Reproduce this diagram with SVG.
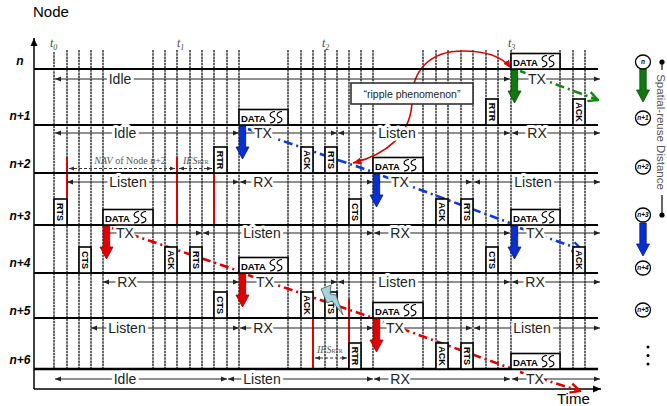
<svg xmlns="http://www.w3.org/2000/svg" width="667" height="406" viewBox="0 0 667 406">
<style>
text{font-family:"Liberation Sans",Arial,sans-serif}
.grid{fill:none;stroke:#000;stroke-width:1.2;stroke-dasharray:2.5 0.7}
.row{stroke:#000;stroke-width:2}
.st{stroke:#222;stroke-width:1;marker-start:url(#ah);marker-end:url(#ah)}
.sl{font-size:14px;fill:#222;text-anchor:middle;stroke:#fff;stroke-width:6;stroke-linejoin:round;paint-order:stroke}
.nl{font-size:12px;font-weight:bold;font-style:italic;text-anchor:middle}
.pk{fill:#fff;stroke:#000;stroke-width:1.6}
.pt{font-size:9px;font-weight:bold;text-anchor:middle}
.dt{font-size:9.5px;font-weight:bold}
.sq{fill:none;stroke:#000;stroke-width:1.2}
.red{stroke:#e00000;stroke-width:2}
.ser{font-family:"Liberation Serif","Times New Roman",serif;font-size:10px;fill:#555}
.tl{font-family:"Liberation Serif","Times New Roman",serif;font-size:12px;font-style:italic;fill:#444}
.dash{stroke:#333;stroke-width:1;stroke-dasharray:3 2;marker-start:url(#ah2);marker-end:url(#ah2)}
.dd{fill:none;stroke-width:2.6;stroke-dasharray:9 4 2 4}
.lc{fill:#fff;stroke:#000;stroke-width:1.3}
.lt{font-size:6.5px;font-weight:bold;font-style:italic;text-anchor:middle}
</style>
<defs>
<marker id="ah" viewBox="0 0 6 6" refX="6" refY="3" markerWidth="6" markerHeight="6" markerUnits="userSpaceOnUse" orient="auto-start-reverse"><path d="M0,0.6 L6,3 L0,5.4z" fill="#222"/></marker>
<marker id="ah2" viewBox="0 0 6 6" refX="6" refY="3" markerWidth="5" markerHeight="5" markerUnits="userSpaceOnUse" orient="auto-start-reverse"><path d="M0,0.6 L6,3 L0,5.4z" fill="#333"/></marker>
<marker id="ax" viewBox="0 0 8 8" refX="8" refY="4" markerWidth="8" markerHeight="8" markerUnits="userSpaceOnUse" orient="auto"><path d="M0,0.5 L8,4 L0,7.5z" fill="#000"/></marker>
<marker id="cb" viewBox="0 0 10 10" refX="9" refY="5" markerWidth="12" markerHeight="12" markerUnits="userSpaceOnUse" orient="auto"><path d="M1,1 L9,5 L1,9" fill="none" stroke="#0a3be0" stroke-width="2"/></marker>
<marker id="cg" viewBox="0 0 10 10" refX="9" refY="5" markerWidth="12" markerHeight="12" markerUnits="userSpaceOnUse" orient="auto"><path d="M1,1 L9,5 L1,9" fill="none" stroke="#118811" stroke-width="2"/></marker>
<marker id="cr" viewBox="0 0 10 10" refX="9" refY="5" markerWidth="12" markerHeight="12" markerUnits="userSpaceOnUse" orient="auto"><path d="M1,1 L9,5 L1,9" fill="none" stroke="#e00000" stroke-width="2"/></marker>
<marker id="rh" viewBox="0 0 8 8" refX="8" refY="4" markerWidth="8" markerHeight="8" markerUnits="userSpaceOnUse" orient="auto-start-reverse"><path d="M0,0.5 L8,4 L0,7.5z" fill="#e00000"/></marker>
<path id="sqg" d="M5,0 C-1,0.5 -1,5 2.5,5.75 C6,6.5 6,11 0,11.5 M12,0 C6,0.5 6,5 9.5,5.75 C13,6.5 13,11 7,11.5"/>
<path id="darr" d="M-3.2,1 H3.2 V22 H6.5 L0,34 L-6.5,22 H-3.2Z"/>
</defs>

<rect width="667" height="406" fill="#fff"/>

<!-- axes -->
<g id="axes">
<line x1="34" y1="389" x2="34" y2="38" stroke="#000" stroke-width="1.5" marker-end="url(#ax)"/>
<line x1="34" y1="389" x2="601" y2="389" stroke="#000" stroke-width="1.5" marker-end="url(#ax)"/>
<text x="33" y="17" font-size="15">Node</text>
<text x="557" y="404" font-size="15">Time</text>
</g>

<!-- time grid -->
<g id="grid">
<path class="grid" d="M54,52V369 M67,50V369 M79,50V369 M91,50V369 M103,50V369 M153,50V369 M165,50V369 M177,50V369 M190,50V369 M202,50V369 M214,50V369 M227,50V369 M239,50V369 M288,50V369 M301,50V369 M313,50V369 M325,50V369 M337,50V369 M349,50V369 M361,50V369 M373,50V369 M423,50V369 M436,50V369 M448,50V369 M461,50V369 M473,50V369 M486,50V369 M498,50V369 M511,50V369 M560,50V369 M573,50V369 M585,50V369"/>
<text class="tl" x="50" y="47">t<tspan font-size="8" dy="2.5">0</tspan></text>
<text class="tl" x="177" y="47">t<tspan font-size="8" dy="2.5">1</tspan></text>
<text class="tl" x="322" y="47">t<tspan font-size="8" dy="2.5">2</tspan></text>
<text class="tl" x="508" y="47">t<tspan font-size="8" dy="2.5">3</tspan></text>
</g>

<!-- connectors -->
<g id="connectors">
<path class="dd" stroke="#0a3be0" d="M248,129 L373,172 M383,176 L510,223"/>
<path class="dd" stroke="#0a3be0" d="M520,228 L582,250" marker-end="url(#cb)"/>
<path class="dd" stroke="#118811" d="M520,71 L598,100" marker-end="url(#cg)"/>
<path class="dd" stroke="#e00000" d="M112,228 L239,271 M248,275 L373,318 M383,322 L510,368"/>
<path class="dd" stroke="#e00000" d="M520,372 L580,391" marker-end="url(#cr)"/>
<path fill="none" stroke="#e00000" stroke-width="1.6" d="M353,163 C385,155 412,135 412,100 C412,70 430,51 463,51 C490,51 504,59 511,68" marker-start="url(#rh)" marker-end="url(#rh)"/>
</g>

<!-- node n -->
<g id="node-n">
<line class="row" x1="34" y1="69" x2="598" y2="69"/>
<text class="nl" x="20" y="65">n</text>
<line class="st" x1="55" y1="79" x2="510" y2="79"/><text class="sl" x="120" y="84">Idle</text>
<line class="st" x1="512" y1="79" x2="600" y2="79"/><text class="sl" x="537" y="84">TX</text>
<rect class="pk" x="511" y="53.5" width="49" height="15.5"/><text class="dt" x="513" y="65.5">DATA</text><use href="#sqg" class="sq" x="542" y="55.5"/>
<use href="#darr" x="514.5" y="69" fill="#117711" stroke="#0a4a0a" stroke-width="0.8"/>
</g>

<!-- node n+1 -->
<g id="node-n1">
<line class="row" x1="34" y1="125" x2="598" y2="125"/>
<text class="nl" x="20" y="120">n+1</text>
<line class="st" x1="55" y1="133" x2="239" y2="133"/><text class="sl" x="125" y="138">Idle</text>
<line class="st" x1="240" y1="133" x2="337" y2="133"/><text class="sl" x="263" y="138">TX</text>
<line class="st" x1="338" y1="133" x2="510" y2="133"/><text class="sl" x="397" y="138">Listen</text>
<line class="st" x1="512" y1="133" x2="600" y2="133"/><text class="sl" x="537" y="138">RX</text>
<rect class="pk" x="239" y="109.5" width="49" height="15.5"/><text class="dt" x="241" y="121.5">DATA</text><use href="#sqg" class="sq" x="270" y="111.5"/>
<rect class="pk" x="486" y="99" width="12" height="26"/><text class="pt" transform="translate(492,112) rotate(90)" dy="3.2">RTR</text>
<rect class="pk" x="573" y="99" width="12" height="26"/><text class="pt" transform="translate(579,112) rotate(90)" dy="3.2">ACK</text>
<use href="#darr" x="242.5" y="125" fill="#0a2fd0" stroke="#001a80" stroke-width="0.8"/>
</g>

<!-- node n+2 -->
<g id="node-n2">
<line class="red" x1="67" y1="157" x2="67" y2="225"/>
<line class="red" x1="177" y1="157" x2="177" y2="225"/>
<line class="red" x1="214" y1="157" x2="214" y2="225"/>
<line class="dash" x1="69" y1="168.5" x2="175" y2="168.5"/>
<line class="dash" x1="179" y1="168.5" x2="212" y2="168.5"/>
<text class="ser" x="130" y="164" text-anchor="middle"><tspan font-style="italic">NAV</tspan> of Node <tspan font-style="italic">n</tspan>+2</text>
<text class="ser" x="183" y="164"><tspan font-style="italic">IFS</tspan><tspan font-size="6">RTR</tspan></text>
<line class="row" x1="34" y1="173" x2="598" y2="173"/>
<text class="nl" x="20" y="168">n+2</text>
<line class="st" x1="67" y1="182" x2="239" y2="182"/><text class="sl" x="128" y="187">Listen</text>
<line class="st" x1="240" y1="182" x2="373" y2="182"/><text class="sl" x="263" y="187">RX</text>
<line class="st" x1="374" y1="182" x2="472" y2="182"/><text class="sl" x="400" y="187">TX</text>
<line class="st" x1="474" y1="182" x2="600" y2="182"/><text class="sl" x="533" y="187">Listen</text>
<rect class="pk" x="214" y="147" width="13" height="26"/><text class="pt" transform="translate(220.5,160) rotate(90)" dy="3.2">RTR</text>
<rect class="pk" x="301" y="147" width="12" height="26"/><text class="pt" transform="translate(307,160) rotate(90)" dy="3.2">ACK</text>
<rect class="pk" x="325" y="147" width="12" height="26"/><text class="pt" transform="translate(331,160) rotate(90)" dy="3.2">RTS</text>
<rect class="pk" x="373" y="157.5" width="50" height="15.5"/><text class="dt" x="375" y="169.5">DATA</text><use href="#sqg" class="sq" x="404" y="159.5"/>
<use href="#darr" x="376.5" y="173" fill="#0a2fd0" stroke="#001a80" stroke-width="0.8"/>
</g>

<!-- node n+3 -->
<g id="node-n3">
<line class="row" x1="34" y1="225" x2="598" y2="225"/>
<text class="nl" x="20" y="220">n+3</text>
<line class="st" x1="103" y1="233" x2="202" y2="233"/><text class="sl" x="125" y="238">TX</text>
<line class="st" x1="203" y1="233" x2="373" y2="233"/><text class="sl" x="262" y="238">Listen</text>
<line class="st" x1="374" y1="233" x2="510" y2="233"/><text class="sl" x="400" y="238">RX</text>
<line class="st" x1="512" y1="233" x2="600" y2="233"/><text class="sl" x="535" y="238">TX</text>
<rect class="pk" x="54" y="199" width="13" height="26"/><text class="pt" transform="translate(60.5,212) rotate(90)" dy="3.2">RTS</text>
<rect class="pk" x="349" y="199" width="12" height="26"/><text class="pt" transform="translate(355,212) rotate(90)" dy="3.2">CTS</text>
<rect class="pk" x="436" y="199" width="12" height="26"/><text class="pt" transform="translate(442,212) rotate(90)" dy="3.2">ACK</text>
<rect class="pk" x="461" y="199" width="12" height="26"/><text class="pt" transform="translate(467,212) rotate(90)" dy="3.2">RTS</text>
<rect class="pk" x="103" y="209.5" width="50" height="15.5"/><text class="dt" x="105" y="221.5">DATA</text><use href="#sqg" class="sq" x="134" y="211.5"/>
<rect class="pk" x="511" y="209.5" width="49" height="15.5"/><text class="dt" x="513" y="221.5">DATA</text><use href="#sqg" class="sq" x="542" y="211.5"/>
<use href="#darr" x="106.5" y="225" fill="#e00000" stroke="#900" stroke-width="0.8"/>
<use href="#darr" x="514.5" y="225" fill="#0a2fd0" stroke="#001a80" stroke-width="0.8"/>
</g>

<!-- node n+4 -->
<g id="node-n4">
<line class="row" x1="34" y1="273" x2="598" y2="273"/>
<text class="nl" x="20" y="267">n+4</text>
<line class="st" x1="103" y1="282" x2="239" y2="282"/><text class="sl" x="127" y="287">RX</text>
<line class="st" x1="240" y1="282" x2="337" y2="282"/><text class="sl" x="265" y="287">TX</text>
<line class="st" x1="338" y1="282" x2="510" y2="282"/><text class="sl" x="397" y="287">Listen</text>
<line class="st" x1="512" y1="282" x2="600" y2="282"/><text class="sl" x="535" y="287">RX</text>
<rect class="pk" x="79" y="247" width="12" height="26"/><text class="pt" transform="translate(85,260) rotate(90)" dy="3.2">CTS</text>
<rect class="pk" x="165" y="247" width="12" height="26"/><text class="pt" transform="translate(171,260) rotate(90)" dy="3.2">ACK</text>
<rect class="pk" x="190" y="247" width="12" height="26"/><text class="pt" transform="translate(196,260) rotate(90)" dy="3.2">RTS</text>
<rect class="pk" x="486" y="247" width="12" height="26"/><text class="pt" transform="translate(492,260) rotate(90)" dy="3.2">CTS</text>
<rect class="pk" x="573" y="247" width="12" height="26"/><text class="pt" transform="translate(579,260) rotate(90)" dy="3.2">ACK</text>
<rect class="pk" x="239" y="257.5" width="49" height="15.5"/><text class="dt" x="241" y="269.5">DATA</text><use href="#sqg" class="sq" x="270" y="259.5"/>
<use href="#darr" x="242.5" y="273" fill="#e00000" stroke="#900" stroke-width="0.8"/>
</g>

<!-- node n+5 -->
<g id="node-n5">
<line class="red" x1="313" y1="300" x2="313" y2="369"/>
<line class="red" x1="349" y1="299" x2="349" y2="369"/>
<line class="row" x1="34" y1="318" x2="598" y2="318"/>
<text class="nl" x="20" y="315">n+5</text>
<line class="st" x1="91" y1="328" x2="239" y2="328"/><text class="sl" x="127" y="333">Listen</text>
<line class="st" x1="240" y1="328" x2="373" y2="328"/><text class="sl" x="263" y="333">RX</text>
<line class="st" x1="374" y1="328" x2="472" y2="328"/><text class="sl" x="395" y="333">TX</text>
<line class="st" x1="474" y1="328" x2="600" y2="328"/><text class="sl" x="532" y="333">Listen</text>
<rect class="pk" x="214" y="292" width="13" height="26"/><text class="pt" transform="translate(220.5,305) rotate(90)" dy="3.2">CTS</text>
<rect class="pk" x="301" y="292" width="12" height="26"/><text class="pt" transform="translate(307,305) rotate(90)" dy="3.2">ACK</text>
<rect class="pk" x="325" y="292" width="12" height="26"/><text class="pt" transform="translate(331,305) rotate(90)" dy="3.2">RTS</text>
<rect class="pk" x="373" y="302.5" width="50" height="15.5"/><text class="dt" x="375" y="314.5">DATA</text><use href="#sqg" class="sq" x="404" y="304.5"/>
<path d="M321,289 L331,285 L330,294 L336,295 L343,315 L332,301 L327,303 Z" fill="#a9d3dc" stroke="#4a5a60" stroke-width="0.8"/>
<use href="#darr" x="376.5" y="318" fill="#e00000" stroke="#900" stroke-width="0.8"/>
<line class="dash" x1="315" y1="358" x2="347" y2="358"/>
<text class="ser" x="317" y="353"><tspan font-style="italic">IFS</tspan><tspan font-size="6">RTR</tspan></text>
</g>

<!-- node n+6 -->
<g id="node-n6">
<line x1="34" y1="369" x2="598" y2="369" stroke="#000" stroke-width="2.5"/>
<text class="nl" x="20" y="364">n+6</text>
<line class="st" x1="55" y1="379" x2="227" y2="379"/><text class="sl" x="125" y="384">Idle</text>
<line class="st" x1="228" y1="379" x2="373" y2="379"/><text class="sl" x="262" y="384">Listen</text>
<line class="st" x1="374" y1="379" x2="510" y2="379"/><text class="sl" x="400" y="384">RX</text>
<line class="st" x1="512" y1="379" x2="600" y2="379"/><text class="sl" x="535" y="384">TX</text>
<rect class="pk" x="349" y="343" width="12" height="26"/><text class="pt" transform="translate(355,356) rotate(90)" dy="3.2">RTR</text>
<rect class="pk" x="436" y="343" width="12" height="26"/><text class="pt" transform="translate(442,356) rotate(90)" dy="3.2">ACK</text>
<rect class="pk" x="461" y="343" width="12" height="26"/><text class="pt" transform="translate(467,356) rotate(90)" dy="3.2">RTS</text>
<rect class="pk" x="511" y="353.5" width="49" height="15.5"/><text class="dt" x="513" y="365.5">DATA</text><use href="#sqg" class="sq" x="542" y="355.5"/>
</g>

<!-- ripple annotation -->
<g id="ripple">
<rect x="351" y="83" width="122" height="21" fill="#fff" stroke="#333" stroke-width="1.6"/>
<text x="412" y="97.5" font-size="10.5" text-anchor="middle" fill="#222">“ripple phenomenon”</text>
</g>

<!-- legend -->
<g id="legend">
<use href="#darr" x="643" y="68" fill="#117711" stroke="#0a4a0a" stroke-width="0.8"/>
<use href="#darr" x="643" y="222" fill="#0a2fd0" stroke="#001a80" stroke-width="0.8"/>
<ellipse class="lc" cx="643" cy="62" rx="7.5" ry="7"/><text class="lt" x="643" y="64.3">n</text>
<ellipse class="lc" cx="643" cy="118" rx="7.5" ry="7"/><text class="lt" x="643" y="120.3">n+1</text>
<ellipse class="lc" cx="643" cy="167" rx="7.5" ry="7"/><text class="lt" x="643" y="169.3">n+2</text>
<ellipse class="lc" cx="643" cy="215" rx="7.5" ry="7"/><text class="lt" x="643" y="217.3">n+3</text>
<ellipse class="lc" cx="643" cy="268" rx="7.5" ry="7"/><text class="lt" x="643" y="270.3">n+4</text>
<ellipse class="lc" cx="643" cy="310" rx="7.5" ry="7"/><text class="lt" x="643" y="312.3">n+5</text>
<circle cx="648" cy="347" r="1.5"/><circle cx="648" cy="355.5" r="1.5"/><circle cx="648" cy="364" r="1.5"/>
<line x1="662" y1="62" x2="662" y2="70" stroke="#000" stroke-width="1.2"/>
<line x1="662" y1="195" x2="662" y2="215" stroke="#000" stroke-width="1.2"/>
<circle cx="662" cy="62" r="2.6"/><circle cx="662" cy="215" r="2.6"/>
<text transform="translate(657,132) rotate(90)" font-size="11.5" fill="#555" text-anchor="middle">Spatial-reuse Distance</text>
</g>
</svg>
